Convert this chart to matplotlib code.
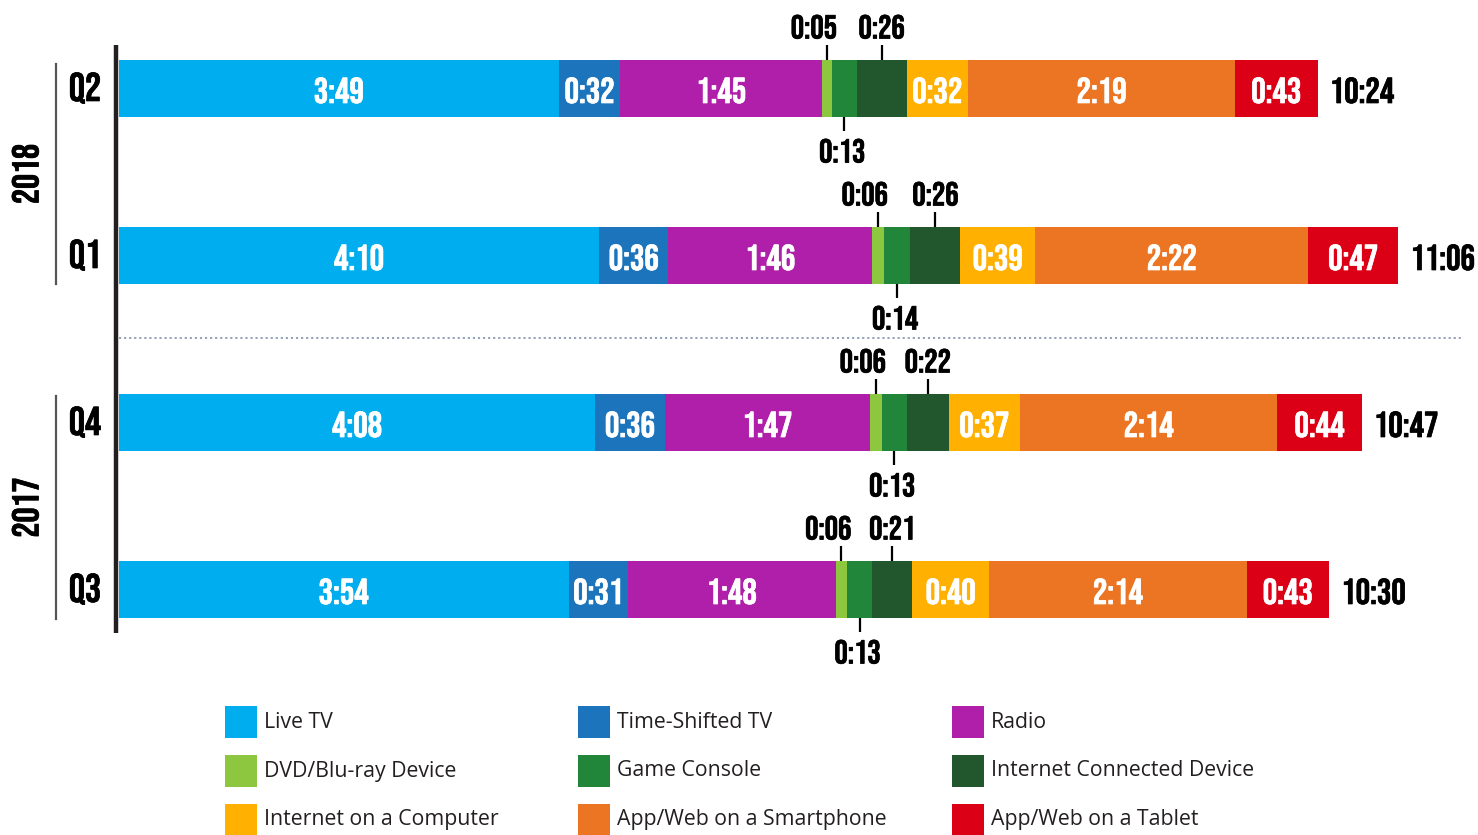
import matplotlib
matplotlib.use("Agg")
import matplotlib.pyplot as plt
import matplotlib.patheffects as pe
from matplotlib.patches import Rectangle

# minutes per day by platform, one row per quarter (top to bottom)
quarters = ["Q2", "Q1", "Q4", "Q3"]
years = ["2018", "2017"]
platforms = ["Live TV", "Time-Shifted TV", "Radio",
             "DVD/Blu-ray Device", "Game Console", "Internet Connected Device",
             "Internet on a Computer", "App/Web on a Smartphone", "App/Web on a Tablet"]
colors = ["#00aeef", "#1c75bc", "#b01faa",
          "#8dc63f", "#22863a", "#22562c",
          "#ffb000", "#ec7523", "#dc0017"]

live_tv = [229, 250, 248, 234]
time_shifted = [32, 36, 36, 31]
radio = [105, 106, 107, 108]
dvd = [5, 6, 6, 6]
game_console = [13, 14, 13, 13]
internet_device = [26, 26, 22, 21]
computer = [32, 39, 37, 40]
smartphone = [139, 142, 134, 134]
tablet = [43, 47, 44, 43]

series = [live_tv, time_shifted, radio, dvd, game_console, internet_device,
          computer, smartphone, tablet]

W, H = 1478, 835
cond = dict(family=["Bebas Neue", "DejaVu Sans"])


def bold(color):
    # thicken the condensed face a little with an outline in its own colour
    return [pe.withStroke(linewidth=0.5, foreground=color)]


def fmt(m):
    return f"{m // 60}:{m % 60:02d}"


fig = plt.figure(figsize=(W / 100, H / 100), dpi=100)
px_per_min = 1.921
x0 = 119
ax = fig.add_axes([x0 / W, 0, 1 - x0 / W, 1])
ax.set_xlim(0, (W - x0) / px_per_min)
# bar centres sit 167 px apart, first at 89 px from the top
ax.set_ylim((H - 89) / 167, -89 / 167)
ax.axis("off")

dv = 1 / 167          # one pixel in y data units
bar_h = 57 * dv
ypos = list(range(len(quarters)))
left = [0] * len(quarters)
for k, vals in enumerate(series):
    ax.barh(ypos, vals, left=left, height=bar_h, color=colors[k], linewidth=0)
    if k not in (3, 4, 5):
        for i, v in enumerate(vals):
            ax.text(left[i] + v / 2, i + 14 * dv, fmt(v), ha="center",
                    va="baseline", color="white", fontsize=26,
                    path_effects=bold("white"), **cond)
    left = [l + v for l, v in zip(left, vals)]

# small segments: leader lines with labels above / below the bar
for i in ypos:
    start_dvd = live_tv[i] + time_shifted[i] + radio[i]
    c_dvd = start_dvd + dvd[i] / 2
    c_gc = start_dvd + dvd[i] + game_console[i] / 2
    c_icd = start_dvd + dvd[i] + game_console[i] + internet_device[i] / 2
    top = i - bar_h / 2
    bot = i + bar_h / 2
    for c in (c_dvd, c_icd):
        ax.plot([c, c], [top, top - 15 * dv], color="black", lw=1.6,
                solid_capstyle="butt")
    ax.plot([c_gc, c_gc], [bot, bot + 14 * dv], color="black", lw=1.6,
            solid_capstyle="butt")
    ax.text(c_dvd - 13 / px_per_min, top - 22 * dv, fmt(dvd[i]), ha="center",
            va="baseline", fontsize=24, color="black",
            path_effects=bold("black"), **cond)
    ax.text(c_icd, top - 22 * dv, fmt(internet_device[i]), ha="center",
            va="baseline", fontsize=24, color="black",
            path_effects=bold("black"), **cond)
    ax.text(c_gc - 1, bot + 45 * dv, fmt(game_console[i]), ha="center",
            va="baseline", fontsize=24, color="black",
            path_effects=bold("black"), **cond)
    # total at the end of the bar
    ax.text(left[i] + 12 / px_per_min, i + 14 * dv, fmt(left[i]), ha="left",
            va="baseline", fontsize=26, color="black",
            path_effects=bold("black"), **cond)

# axis line and year separator
ax.plot([-1.5, -1.5], [(45 - 89) * dv, (633 - 89) * dv], color="#231f20",
        lw=3.2, clip_on=False, solid_capstyle="butt")
ax.plot([0, (1462 - x0) / px_per_min], [1.49, 1.49], color="#8a9bb0",
        lw=1.3, ls=(0, (1.2, 1.6)))


def fx(x):
    return x / W


def fy(y):
    return 1 - y / H


# quarter labels and year brackets on the left
for i, q in enumerate(quarters):
    yc = 89 + 167 * i
    fig.text(fx(85), fy(yc + 12), q, ha="center", va="baseline", fontsize=29,
             color="black", path_effects=bold("black"), **cond)
for yr, (ya, yb) in zip(years, [(64, 284), (396, 619)]):
    fig.add_artist(plt.Line2D([fx(56), fx(56)], [fy(ya), fy(yb)],
                              color="#555555", lw=1.6))
    fig.text(fx(25), fy((ya + yb) / 2), yr, ha="center", va="center",
             rotation=90, fontsize=27, color="black",
             path_effects=bold("black"), **cond)

# legend
col_x = [225, 578, 952]
row_y = [722, 771, 820]
for k, name in enumerate(platforms):
    cx = col_x[k % 3]
    cy = row_y[k // 3]
    fig.add_artist(Rectangle((fx(cx), fy(cy + 16)), 32 / W, 32 / H,
                             transform=fig.transFigure, color=colors[k], lw=0))
    fig.text(fx(cx + 39), fy(cy), name, ha="left", va="center",
             fontsize=15.3, color="#231f20", family=["Open Sans", "DejaVu Sans"])

fig.savefig("out.png", dpi=100)
